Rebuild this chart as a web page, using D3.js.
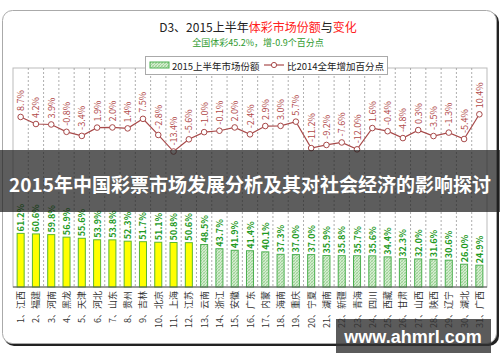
<!DOCTYPE html>
<html>
<head>
<meta charset="utf-8">
<script src="https://cdn.jsdelivr.net/npm/d3@7"></script>
<style>
  body { margin: 0; background: #fff; }
  svg { display: block; font-family: "Noto Sans CJK SC", "Noto Sans", sans-serif; }
</style>
</head>
<body>
<div id="chart"></div>
<script>
var provinces = ["江西", "福建", "河南", "黑龙", "天津", "河北", "山东", "贵州", "吉林", "北京",
  "上海", "江苏", "云南", "浙江", "安徽", "广东", "内蒙", "海南", "重庆", "宁夏",
  "湖南", "新疆", "青海", "四川", "西藏", "甘肃", "山西", "陕西", "辽宁", "湖北", "广西"];
// 2015上半年市场份额 (%)
var share = [61.2, 60.6, 59.8, 56.9, 55.6, 53.9, 53.8, 52.3, 51.7, 51.1,
  50.8, 50.6, 48.5, 43.7, 41.9, 41.4, 40.1, 37.3, 37.0, 37.0,
  35.9, 35.8, 35.7, 35.6, 34.4, 32.3, 32.0, 31.6, 30.6, 26.0, 24.9];
// 比2014全年增加百分点
var change = [8.7, 4.2, 3.9, -0.8, -3.4, 1.9, 2.0, 1.4, 7.5, -2.8,
  -13.4, -5.6, -1.0, -0.1, 2.0, -2.4, 2.9, 3.0, 5.7, -11.2,
  -9.2, -7.6, -12.0, 1.6, -0.4, -4.8, 0.3, -3.5, -1.3, -5.4, 10.4];
var legendNames = ["2015上半年市场份额", "比2014全年增加百分点"];

var W = 500, H = 362;
var plot = { left: 13, right: 487, top: 68, bottom: 287 };

var svg = d3.select("#chart").append("svg")
  .attr("width", W).attr("height", H);

var defs = svg.append("defs");
var pat = defs.append("pattern")
  .attr("id", "hatch")
  .attr("patternUnits", "userSpaceOnUse")
  .attr("width", 3).attr("height", 3);
pat.append("rect").attr("width", 3).attr("height", 3).attr("fill", "#d4ecd0");
pat.append("path").attr("d", "M0,3 L3,0").attr("stroke", "#8fcc88").attr("stroke-width", 0.8);
pat.append("path").attr("d", "M0,0 L3,3").attr("stroke", "#a9d8a2").attr("stroke-width", 0.6);

// outer frame with shadow
svg.append("rect")
  .attr("x", 4).attr("y", 12).attr("width", 495).attr("height", 334)
  .attr("rx", 10).attr("fill", "#222");
svg.append("rect")
  .attr("x", 2.5).attr("y", 10.5).attr("width", 494).attr("height", 333)
  .attr("rx", 10).attr("fill", "#fff").attr("stroke", "#aaa");

// title
var title = svg.append("text")
  .attr("x", 258).attr("y", 32)
  .attr("text-anchor", "middle")
  .style("font-size", "12px");
title.append("tspan").attr("fill", "#222").text("D3、2015上半年");
title.append("tspan").attr("fill", "#ff2020").text("体彩市场份额");
title.append("tspan").attr("fill", "#222").text("与");
title.append("tspan").attr("fill", "#ff2020").text("变化");

svg.append("text")
  .attr("x", 258).attr("y", 46)
  .attr("text-anchor", "middle")
  .attr("fill", "#2e9a2e")
  .style("font-size", "9px")
  .text("全国体彩45.2%，增-0.9个百分点");

// scales
var x = d3.scaleBand().domain(d3.range(provinces.length))
  .range([plot.left, plot.right]).padding(0);
var yBar = d3.scaleLinear().domain([0, 250]).range([plot.bottom, plot.top]);
var yLine = d3.scaleLinear().domain([-100, 40]).range([plot.bottom, plot.top]);
var bw = x.step() * 0.46;

// plot frame
svg.append("rect")
  .attr("x", plot.left).attr("y", plot.top)
  .attr("width", plot.right - plot.left).attr("height", plot.bottom - plot.top)
  .attr("fill", "#fff").attr("stroke", "#bbb");

// dotted grid lines between categories
svg.append("g").selectAll("line")
  .data(d3.range(1, provinces.length))
  .enter().append("line")
  .attr("x1", function (d) { return x(d); })
  .attr("x2", function (d) { return x(d); })
  .attr("y1", plot.top).attr("y2", plot.bottom)
  .attr("stroke", "#999")
  .attr("stroke-width", 0.8)
  .attr("stroke-dasharray", "2,2");

// bars
svg.append("g").selectAll("rect")
  .data(share)
  .enter().append("rect")
  .attr("x", function (d, i) { return x(i) + (x.step() - bw) / 2; })
  .attr("y", function (d) { return yBar(d); })
  .attr("width", bw)
  .attr("height", function (d) { return plot.bottom - yBar(d); })
  .attr("fill", function (d) { return d > 50 ? "#ffff00" : "url(#hatch)"; })
  .attr("stroke", function (d) { return d > 50 ? "#5cb82e" : "#4caf50"; })
  .attr("stroke-width", 1);

// bar labels
svg.append("g").selectAll("text")
  .data(share)
  .enter().append("text")
  .attr("transform", function (d, i) {
    return "translate(" + (x(i) + x.step() / 2 + 3.5) + "," + (yBar(d) - 2) + ") rotate(-90)";
  })
  .attr("fill", "#1f9a1f")
  .style("font-size", "9px")
  .style("font-weight", "bold")
  .text(function (d) { return d.toFixed(1) + "%"; });

// bottom axis line
svg.append("line")
  .attr("x1", plot.left).attr("x2", plot.right)
  .attr("y1", plot.bottom).attr("y2", plot.bottom)
  .attr("stroke", "#555");

// change line
var line = d3.line()
  .x(function (d, i) { return x(i) + x.step() / 2; })
  .y(function (d) { return yLine(d); });
svg.append("path")
  .datum(change)
  .attr("d", line)
  .attr("fill", "none")
  .attr("stroke", "#a84a4a")
  .attr("stroke-width", 1.2);
svg.append("g").selectAll("circle")
  .data(change)
  .enter().append("circle")
  .attr("cx", function (d, i) { return x(i) + x.step() / 2; })
  .attr("cy", function (d) { return yLine(d); })
  .attr("r", 2.8)
  .attr("fill", "#fff")
  .attr("stroke", "#a84a4a")
  .attr("stroke-width", 1);
svg.append("g").selectAll("text")
  .data(change)
  .enter().append("text")
  .attr("transform", function (d, i) {
    return "translate(" + (x(i) + x.step() / 2 + 3.5) + "," + (yLine(d) - 6) + ") rotate(-90)";
  })
  .attr("fill", "#b04848")
  .style("font-size", "9px")
  .text(function (d) { return d.toFixed(1) + "%"; });

// category labels
svg.append("g").selectAll("text")
  .data(provinces)
  .enter().append("text")
  .attr("transform", function (d, i) {
    return "translate(" + (x(i) + x.step() / 2 + 3.5) + "," + (plot.bottom + 4) + ") rotate(-90)";
  })
  .attr("text-anchor", "end")
  .attr("fill", "#333")
  .style("font-size", "9px")
  .text(function (d, i) { return (i + 1) + "、" + d; });

// legend
var lg = svg.append("g");
lg.append("rect")
  .attr("x", 145.5).attr("y", 56.5).attr("width", 242).attr("height", 18)
  .attr("fill", "#fff").attr("stroke", "#aaa");
lg.append("rect")
  .attr("x", 150).attr("y", 62).attr("width", 19).attr("height", 6)
  .attr("fill", "url(#hatch)").attr("stroke", "#4caf50");
lg.append("text").attr("x", 172).attr("y", 69.5)
  .attr("fill", "#222").style("font-size", "9.5px").text(legendNames[0]);
lg.append("line")
  .attr("x1", 264).attr("x2", 284).attr("y1", 65).attr("y2", 65)
  .attr("stroke", "#a84a4a").attr("stroke-width", 1.2);
lg.append("circle").attr("cx", 274).attr("cy", 65).attr("r", 2.6)
  .attr("fill", "#fff").attr("stroke", "#a84a4a");
lg.append("text").attr("x", 287).attr("y", 69.5)
  .attr("fill", "#222").style("font-size", "9.5px").text(legendNames[1]);

// overlay banner
svg.append("rect")
  .attr("x", 0).attr("y", 150).attr("width", W).attr("height", 62)
  .attr("fill", "rgba(30,30,30,0.72)");
svg.append("text")
  .attr("x", 250).attr("y", 192)
  .attr("text-anchor", "middle")
  .attr("fill", "#fff")
  .style("font-size", "19px")
  .style("font-weight", "bold")
  .text("2015年中国彩票市场发展分析及其对社会经济的影响探讨");

// watermark
svg.append("rect")
  .attr("x", 336).attr("y", 319).attr("width", 155).attr("height", 34)
  .attr("fill", "rgba(50,50,50,0.8)");
svg.append("text")
  .attr("x", 413).attr("y", 343)
  .attr("text-anchor", "middle")
  .attr("fill", "#fff")
  .style("font-size", "18px")
  .style("font-weight", "bold")
  .style("font-family", "'Liberation Sans', Arial, sans-serif")
  .text("www.ahmrl.com");
</script>
</body>
</html>
